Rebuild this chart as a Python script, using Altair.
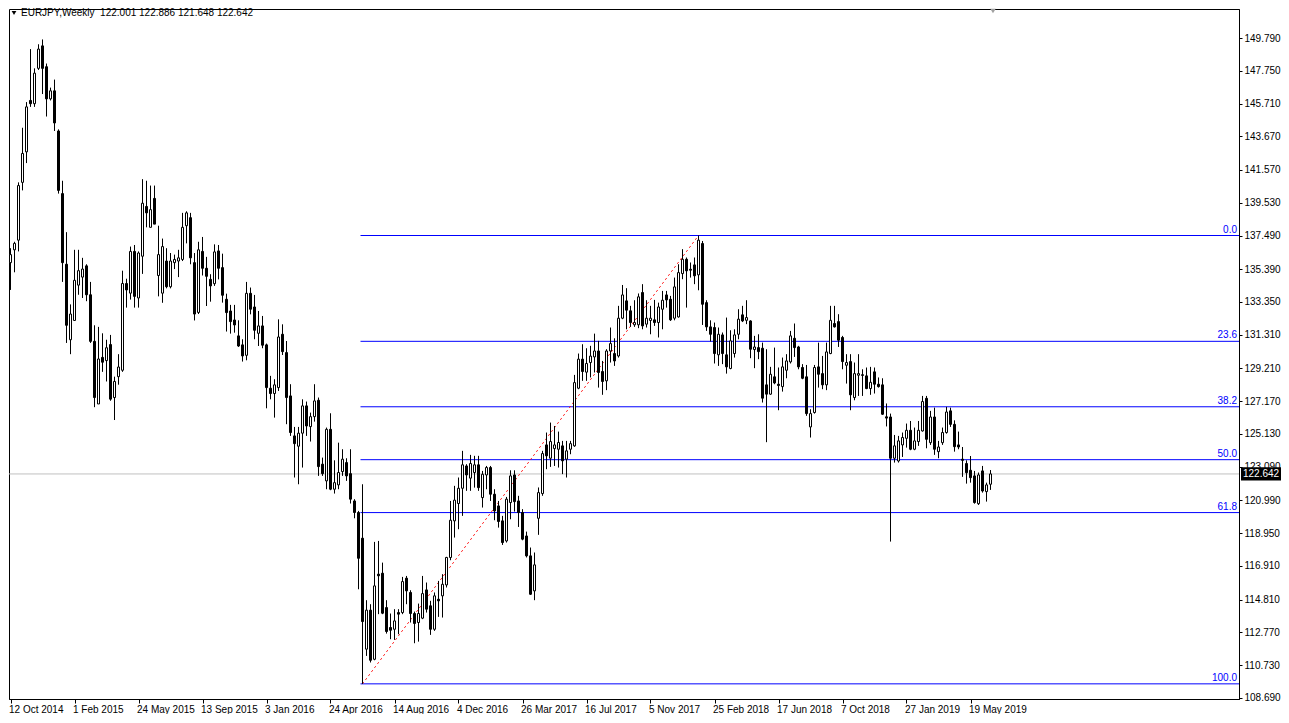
import json
import altair as alt
import pandas as pd

# ---------------- data (weekly EURJPY candles) ----------------
opens = [135.8, 136.6, 137.2, 140.8, 142.7, 145.9, 145.7, 147.9, 149.3, 148.0,
         146.0, 146.5, 144.0, 140.1, 135.7, 131.0, 132.2, 134.4, 134.9, 135.6,
         133.8, 130.9, 127.0, 129.9, 129.7, 130.7, 127.4, 128.7, 129.1, 134.5,
         133.9, 136.5, 133.6, 136.2, 139.3, 138.0, 139.8, 135.0, 133.9, 135.9,
         134.3, 135.8, 135.9, 136.0, 138.1, 138.6, 135.8, 132.7, 136.5, 135.45,
         134.76, 134.49, 136.53, 135.49, 133.52, 132.79, 132.23, 131.24, 130.68, 130.03,
         133.89, 133.04, 131.4, 131.86, 130.68, 127.98, 127.65, 128.02, 131.34, 130.2,
         127.5, 125.01, 124.37, 125.18, 126.88, 125.59, 126.21, 127.23, 123.25, 122.21,
         125.42, 121.69, 121.96, 122.79, 123.35, 122.66, 120.96, 120.24, 118.64, 111.73,
         114.16, 111.1, 116.4, 116.46, 114.32, 113.08, 112.97, 114.01, 114.01, 116.15,
         115.26, 113.95, 113.39, 113.66, 115.42, 114.43, 112.97, 114.84, 115.05, 115.73,
         117.44, 119.72, 120.8, 121.75, 123.14, 122.38, 122.73, 123.21, 121.17, 122.58,
         123.04, 121.38, 120.65, 119.72, 118.47, 120.86, 122.58, 120.96, 120.24, 118.78,
         117.54, 115.36, 119.88, 121.42, 124.45, 123.62, 124.22, 124.18, 124.39, 123.56,
         124.18, 124.39, 127.98, 129.79, 128.98, 129.58, 129.93, 130.3, 129.02, 128.44,
         130.3, 130.14, 129.99, 132.34, 133.42, 132.8, 131.93, 131.93, 133.94, 131.97,
         132.2, 132.24, 132.07, 132.9, 133.79, 133.52, 132.34, 132.42, 135.12, 136.01,
         135.39, 135.66, 135.04, 136.99, 133.31, 131.8, 131.76, 130.06, 131.3, 130.06,
         129.21, 130.14, 131.34, 132.55, 132.21, 132.17, 130.39, 130.51, 130.47, 128.19,
         127.61, 128.69, 128.23, 128.08, 129.1, 129.62, 131.09, 130.55, 129.27, 128.69,
         125.57, 126.47, 129.31, 128.89, 128.19, 130.14, 132.01, 132.13, 131.14, 129.41,
         129.64, 127.4, 128.79, 128.82, 128.75, 127.96, 129.0, 128.23, 128.19, 126.2,
         126.19, 123.62, 123.45, 124.45, 124.86, 125.36, 124.18, 124.66, 125.32, 127.35,
         124.59, 126.19, 124.03, 124.59, 125.22, 126.57, 125.73, 124.45, 123.56, 123.29,
         122.87, 122.52, 120.79, 122.83, 121.54, 122.001]
highs = [136.7, 137.1, 140.8, 144.2, 145.8, 149.1, 147.9, 149.4, 149.7, 148.2,
         146.7, 147.2, 144.1, 140.9, 137.7, 133.2, 136.6, 136.6, 136.1, 135.7,
         134.6, 131.9, 131.8, 131.4, 131.0, 131.3, 128.7, 130.1, 135.3, 134.8,
         136.8, 136.9, 136.5, 141.0, 140.9, 140.6, 140.6, 138.1, 137.3, 136.7,
         136.4, 136.3, 136.6, 138.9, 139.0, 138.9, 136.4, 137.1, 137.4, 136.16,
         135.08, 136.94, 136.9, 136.36, 133.87, 133.17, 133.17, 132.21, 131.03, 134.6,
         134.25, 133.79, 132.79, 132.48, 130.76, 128.75, 128.54, 132.27, 131.96, 130.92,
         128.23, 125.57, 125.57, 127.29, 127.15, 126.46, 128.23, 127.4, 123.66, 125.53,
         126.42, 123.49, 124.59, 124.18, 123.62, 124.18, 121.07, 120.34, 122.0, 114.78,
         114.53, 118.41, 118.47, 117.12, 114.78, 113.95, 114.22, 114.22, 116.23, 116.29,
         115.4, 114.07, 114.57, 116.29, 115.88, 114.74, 115.26, 115.98, 116.4, 117.48,
         120.96, 121.9, 122.42, 124.08, 123.25, 123.83, 123.77, 123.77, 122.83, 123.14,
         123.14, 121.69, 120.96, 120.03, 121.21, 122.87, 122.87, 121.28, 120.45, 119.05,
         118.06, 117.75, 121.8, 124.08, 125.22, 125.84, 125.63, 125.28, 124.7, 124.7,
         124.7, 128.81, 130.14, 130.72, 130.47, 130.62, 131.38, 130.93, 129.68, 130.41,
         131.76, 131.09, 133.11, 134.41, 134.21, 133.11, 133.46, 133.88, 134.46, 133.46,
         133.11, 133.48, 133.31, 134.04, 134.04, 133.73, 134.87, 135.7, 136.64, 136.12,
         135.81, 136.12, 137.49, 137.15, 133.46, 132.21, 132.07, 131.76, 131.45, 132.38,
         131.59, 131.65, 132.9, 133.11, 133.46, 132.21, 131.24, 131.34, 130.82, 130.41,
         129.31, 130.51, 129.27, 129.89, 130.1, 131.55, 132.01, 130.62, 129.48, 129.43,
         126.67, 129.43, 130.82, 129.99, 130.82, 133.11, 133.11, 132.59, 131.24, 130.1,
         130.1, 129.58, 130.1, 129.16, 129.27, 129.31, 129.27, 128.65, 128.6, 127.03,
         126.4, 125.07, 125.01, 125.22, 125.78, 125.94, 125.53, 125.94, 127.5, 127.5,
         126.57, 126.77, 124.7, 125.53, 126.82, 126.77, 125.98, 125.28, 124.32, 123.49,
         123.76, 122.83, 122.73, 123.14, 122.1, 122.886]
lows = [134.1, 135.2, 136.5, 140.3, 142.0, 145.5, 145.5, 147.8, 146.3, 144.9,
        145.9, 144.0, 140.1, 134.6, 130.8, 130.1, 132.2, 133.8, 133.6, 133.4,
        130.8, 126.8, 127.0, 129.0, 128.4, 127.2, 126.0, 128.2, 129.0, 133.0,
        133.5, 133.0, 133.0, 135.1, 138.0, 138.0, 138.2, 133.7, 133.3, 134.2,
        134.2, 135.4, 134.9, 135.9, 137.0, 135.7, 132.2, 132.6, 135.0, 133.1,
        133.37, 134.35, 134.76, 133.31, 131.51, 131.38, 131.44, 130.55, 129.64, 129.72,
        132.58, 131.03, 130.61, 130.47, 126.73, 127.29, 126.15, 127.81, 130.05, 125.74,
        125.01, 122.42, 122.0, 123.04, 125.01, 124.66, 125.9, 122.52, 122.52, 121.69,
        121.63, 121.42, 121.69, 122.52, 122.21, 120.8, 119.88, 115.46, 109.57, 111.31,
        110.9, 111.04, 113.91, 113.91, 112.7, 112.35, 112.31, 112.66, 113.91, 114.53,
        113.39, 112.1, 112.2, 113.6, 114.01, 112.62, 112.87, 113.74, 113.7, 115.57,
        117.27, 118.68, 119.2, 120.03, 121.59, 121.59, 121.79, 121.59, 120.55, 121.69,
        120.96, 119.76, 119.3, 118.22, 118.37, 119.82, 120.3, 119.34, 118.51, 117.44,
        115.11, 114.78, 118.85, 121.28, 122.94, 123.08, 123.14, 123.04, 122.63, 122.42,
        123.87, 124.33, 127.92, 128.44, 128.44, 128.65, 128.96, 128.02, 127.57, 127.86,
        129.58, 129.37, 129.89, 132.28, 131.65, 131.8, 131.8, 131.72, 131.65, 131.76,
        131.34, 131.86, 131.14, 131.65, 133.0, 132.17, 132.21, 132.38, 134.77, 133.0,
        134.87, 134.46, 134.08, 131.92, 131.55, 130.89, 129.52, 129.37, 129.48, 128.89,
        129.16, 129.89, 131.03, 132.1, 131.97, 129.85, 129.23, 129.79, 127.09, 124.62,
        127.57, 128.23, 126.61, 127.77, 128.6, 129.52, 129.93, 129.16, 128.54, 126.26,
        124.91, 126.4, 128.02, 127.92, 127.86, 130.1, 131.76, 130.55, 129.16, 128.27,
        126.61, 127.23, 127.5, 127.5, 127.92, 127.57, 127.65, 128.02, 126.32, 125.6,
        118.43, 123.35, 123.35, 123.7, 124.28, 124.12, 124.12, 124.39, 125.28, 124.24,
        124.45, 123.83, 123.62, 124.45, 125.15, 125.57, 124.03, 124.18, 122.46, 122.04,
        122.1, 120.79, 120.71, 121.48, 120.92, 121.648]
closes = [136.3, 137.0, 140.6, 142.6, 145.5, 145.7, 147.6, 149.1, 147.9, 146.0,
          146.5, 144.5, 140.3, 135.8, 131.9, 132.6, 134.7, 135.3, 135.4, 133.8,
          130.9, 127.4, 129.8, 129.6, 130.5, 127.3, 128.4, 129.3, 134.5, 134.1,
          136.5, 133.7, 136.4, 139.5, 138.9, 139.1, 138.2, 136.3, 136.8, 134.3,
          135.9, 136.0, 136.1, 138.0, 138.9, 136.1, 132.6, 136.6, 135.45, 134.95,
          134.35, 136.47, 135.45, 133.77, 132.69, 132.13, 131.92, 130.61, 129.99, 133.89,
          132.9, 131.59, 131.86, 130.66, 128.02, 127.65, 128.19, 131.17, 130.26, 127.4,
          125.22, 124.53, 125.18, 126.88, 125.63, 126.21, 127.19, 123.1, 122.66, 125.42,
          121.69, 122.1, 122.73, 123.56, 122.52, 121.07, 120.24, 117.39, 113.45, 114.16,
          111.04, 115.67, 116.3, 113.97, 112.83, 112.91, 113.49, 113.91, 115.94, 115.36,
          113.95, 113.33, 113.95, 115.19, 114.22, 112.97, 115.05, 114.74, 115.77, 117.44,
          119.76, 121.01, 121.75, 123.21, 122.58, 123.29, 123.21, 121.79, 122.62, 123.04,
          121.38, 120.34, 119.68, 118.37, 121.07, 122.52, 120.92, 120.24, 118.58, 117.54,
          115.15, 116.98, 121.48, 123.91, 123.77, 124.66, 124.45, 124.6, 123.46, 124.08,
          124.53, 128.33, 129.79, 129.02, 129.52, 129.98, 130.3, 128.96, 128.4, 130.3,
          130.76, 129.68, 132.34, 133.79, 132.84, 132.07, 132.07, 133.67, 131.86, 132.34,
          132.34, 132.07, 133.04, 133.46, 133.48, 132.24, 134.29, 135.18, 136.01, 135.29,
          135.33, 134.98, 137.2, 133.21, 131.8, 131.34, 130.14, 131.34, 130.14, 129.31,
          130.93, 131.3, 132.28, 132.17, 132.38, 130.41, 130.55, 130.26, 127.36, 127.61,
          128.85, 128.31, 128.15, 129.31, 129.68, 131.24, 130.51, 129.31, 128.6, 126.4,
          126.4, 129.27, 128.85, 128.19, 130.24, 132.21, 131.8, 130.97, 129.64, 129.58,
          127.57, 128.89, 128.89, 128.78, 127.96, 128.35, 128.23, 128.08, 126.36, 126.12,
          123.62, 124.39, 124.7, 124.91, 125.36, 124.18, 124.7, 125.36, 127.15, 124.8,
          126.19, 124.18, 124.32, 125.22, 126.5, 125.73, 124.34, 124.32, 123.49, 122.72,
          122.41, 120.86, 122.58, 121.58, 121.96, 122.642]

date_labels = ["12 Oct 2014", "1 Feb 2015", "24 May 2015", "13 Sep 2015", "3 Jan 2016",
               "24 Apr 2016", "14 Aug 2016", "4 Dec 2016", "26 Mar 2017", "16 Jul 2017",
               "5 Nov 2017", "25 Feb 2018", "17 Jun 2018", "7 Oct 2018", "27 Jan 2019",
               "19 May 2019"]
label_step = 16  # weeks between date labels
y_ticks = [149.79, 147.75, 145.71, 143.67, 141.57, 139.53, 137.49, 135.39, 133.35,
           131.31, 129.21, 127.17, 125.13, 123.09, 120.99, 118.95, 116.91, 114.81,
           112.77, 110.73, 108.69]
fib_ratios = [0.0, 23.6, 38.2, 50.0, 61.8, 100.0]
symbol = "EURJPY,Weekly"

# ---------------- tables ----------------
n = len(closes)
candles = pd.DataFrame({"i": list(range(n)), "open": opens, "high": highs,
                        "low": lows, "close": closes})

low_i = min(range(n), key=lambda k: lows[k])
high_i = max(range(low_i, n), key=lambda k: highs[k])
lo, hi = lows[low_i], highs[high_i]
fib = pd.DataFrame({
    "x0": [low_i - 0.5] * len(fib_ratios),
    "level": [hi - r / 100.0 * (hi - lo) for r in fib_ratios],
    "label": [f"{r:.1f}" for r in fib_ratios],
})
trend = pd.DataFrame({"i": [low_i, high_i], "p": [lo, hi]})
last = pd.DataFrame({"p": [closes[-1]], "top": [closes[-1] + 0.41],
                     "bot": [closes[-1] - 0.41], "txt": [f"{closes[-1]:.3f}"]})
header = pd.DataFrame({"t": [symbol + "\u00a0\u00a0" + " ".join(
    f"{v:.3f}" for v in (opens[-1], highs[-1], lows[-1], closes[-1]))]})

# ---------------- scales / axes ----------------
W, H = 1230, 690
FONT = "Liberation Sans"
PX_PER_UNIT = 16.058
y_top = 149.79 + 29 / PX_PER_UNIT
x_scale = alt.Scale(domain=[-0.375, -0.375 + W / 4.0], nice=False, zero=False, padding=0)
y_scale = alt.Scale(domain=[y_top - H / PX_PER_UNIT, y_top], nice=False, zero=False, padding=0)
tick_vals = [k * label_step for k in range(len(date_labels))]
x_axis = alt.Axis(values=tick_vals, title=None, grid=False,
                  labelExpr=json.dumps(date_labels) + f"[round(datum.value/{label_step})]",
                  labelAlign="left", labelFlush=False, labelOverlap=False, labelOffset=-2,
                  tickSize=4, labelPadding=1, domainColor="#000", tickColor="#000",
                  labelColor="#000", labelFont=FONT, labelFontSize=10)
y_axis = alt.Axis(values=y_ticks, format=".3f", orient="right", title=None, grid=False,
                  tickSize=3, labelPadding=2, domainColor="#000", tickColor="#000",
                  labelColor="#000", labelFont=FONT, labelFontSize=10,
                  labelOverlap=False, labelFlush=False)


def X(field):
    return alt.X(field, type="quantitative", scale=x_scale, axis=x_axis)


def Y(field):
    return alt.Y(field, type="quantitative", scale=y_scale, axis=y_axis)


price_line = alt.Chart(last).mark_rule(color="#c0c0c0", strokeWidth=1).encode(y=Y("p"))

fib_lines = alt.Chart(fib).mark_rule(color="#0000ff", strokeWidth=1).encode(
    x=X("x0"), x2=alt.value(W), y=Y("level"))
fib_text = alt.Chart(fib).mark_text(color="#0000ff", align="right", baseline="bottom",
                                    dy=-1, font=FONT, fontSize=10).encode(
    x=alt.value(W - 2), y=Y("level"), text="label:N")

trend_line = alt.Chart(trend).mark_line(color="#ff0000", strokeWidth=1,
                                        strokeDash=[2, 3]).encode(x=X("i"), y=Y("p"))

wicks = alt.Chart(candles).mark_rule(color="#000", strokeWidth=1).encode(
    x=X("i"), y=Y("low"), y2="high")
bodies = alt.Chart(candles).mark_bar(size=2, stroke="#000", strokeWidth=1).encode(
    x=X("i"), y=Y("open"), y2="close",
    fill=alt.condition("datum.close >= datum.open", alt.value("#ffffff"), alt.value("#000000")))

box = alt.Chart(last).mark_rect(color="#000").encode(
    x=alt.value(W + 2), x2=alt.value(W + 42), y=Y("top"), y2="bot")
box_text = alt.Chart(last).mark_text(color="#ffffff", align="left", baseline="middle",
                                     font=FONT, fontSize=10).encode(
    x=alt.value(W + 4), y=Y("p"), text="txt:N")

head_tri = alt.Chart(header).mark_point(shape="triangle-down", filled=True, color="#000",
                                        size=22, opacity=1).encode(
    x=alt.value(5), y=alt.value(4))
head_text = alt.Chart(header).mark_text(align="left", baseline="middle", color="#000",
                                        font=FONT, fontSize=10).encode(
    x=alt.value(12), y=alt.value(4), text="t:N")
shift_marker = alt.Chart(header).mark_point(shape="triangle-down", filled=True,
                                            color="#a0a0a0", size=30, opacity=1).encode(
    x=alt.value(984), y=alt.value(2))

chart = alt.layer(price_line, fib_lines, fib_text, trend_line, wicks, bodies,
                  box, box_text, head_tri, head_text, shift_marker).properties(
    width=W, height=H,
    padding={"left": 0, "top": 0, "right": 0, "bottom": 0},
    background="#ffffff",
).configure_view(stroke="#000", strokeWidth=1)

chart.save("out.html", embed_options={"renderer": "svg", "actions": False})
